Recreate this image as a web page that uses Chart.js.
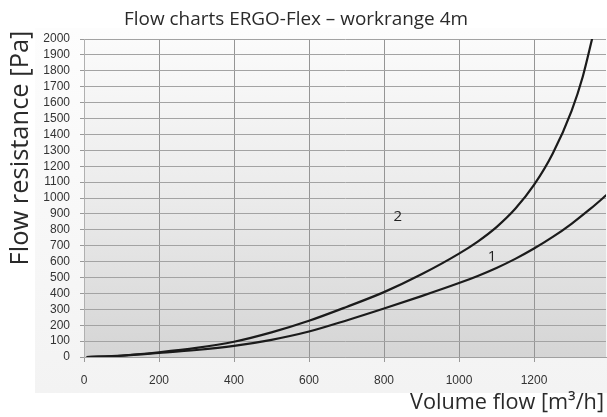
<!DOCTYPE html>
<html><head><meta charset="utf-8">
<script src="https://cdn.jsdelivr.net/npm/chart.js@4/dist/chart.umd.min.js"></script>
<style>html,body{margin:0;padding:0;background:#fff}#wrap{width:607px;height:417px}</style>
</head><body><div id="wrap"><canvas id="c" width="607" height="417"></canvas></div>
<script>
// ---- data ----
const chartTitle = 'Flow charts ERGO-Flex \u2013 workrange 4m';
const xAxisTitle = 'Volume flow [m\u00B3/h]';
const yAxisTitle = 'Flow resistance [Pa]';
const xTicks = [0, 200, 400, 600, 800, 1000, 1200];
const yTicks = [0, 100, 200, 300, 400, 500, 600, 700, 800, 900, 1000, 1100, 1200, 1300, 1400, 1500, 1600, 1700, 1800, 1900, 2000];
const flow1 = [7, 100, 200, 300, 400, 500, 600, 700, 800, 900, 1000, 1050, 1100, 1150, 1200, 1250, 1300, 1350, 1400];
const resistance1 = [0, 8, 25, 44, 70, 108, 160, 230, 305, 383, 465, 510, 560, 617, 682, 755, 838, 931, 1033];
const flow2 = [7, 100, 200, 300, 400, 500, 600, 700, 800, 900, 1000, 1050, 1100, 1150, 1200, 1250, 1300, 1330, 1360];
const resistance2 = [0, 9, 30, 57, 96, 155, 228, 315, 408, 520, 650, 726, 817, 932, 1082, 1280, 1547, 1763, 2051];
const curveLabels = ['1', '2'];
const labelFlow = [1088, 837];
const labelResistance = [630, 881];

const toPts = (xs, ys) => xs.map((x, i) => ({x: x, y: ys[i]}));
const TITLE_FONT = '"Open Sans", "DejaVu Sans", sans-serif';

function fitFont(ctx, text, width, weight) {
  ctx.font = weight + ' 20px ' + TITLE_FONT;
  const w = ctx.measureText(text).width;
  const size = 20 * width / w;
  ctx.font = weight + ' ' + size.toFixed(2) + 'px ' + TITLE_FONT;
  return size;
}

const bgPlugin = {
  id: 'bg',
  beforeDraw(chart) {
    const ctx = chart.ctx, a = chart.chartArea;
    ctx.save();
    const g0 = ctx.createLinearGradient(0, 28, 0, 393);
    g0.addColorStop(0, '#fdfdfd');
    g0.addColorStop(1, '#f3f3f3');
    ctx.fillStyle = g0;
    ctx.fillRect(35, 28, 572, 365);
    const g = ctx.createLinearGradient(0, a.top, 0, a.bottom);
    g.addColorStop(0, '#fbfbfb');
    g.addColorStop(0.5, '#ebebeb');
    g.addColorStop(1, '#d5d5d5');
    ctx.fillStyle = g;
    ctx.fillRect(a.left, a.top, a.right - a.left, a.bottom - a.top);
    ctx.restore();
  }
};

const textPlugin = {
  id: 'texts',
  afterDatasetsDraw(chart) {
    const ctx = chart.ctx, xs = chart.scales.x, ys = chart.scales.y;
    ctx.save();
    ctx.fillStyle = '#222';
    ctx.font = '15px ' + TITLE_FONT;
    ctx.textAlign = 'center';
    ctx.textBaseline = 'middle';
    curveLabels.forEach((t, i) => {
      ctx.fillText(t, xs.getPixelForValue(labelFlow[i]), ys.getPixelForValue(labelResistance[i]));
    });
    ctx.restore();
  },
  afterDraw(chart) {
    const ctx = chart.ctx;
    ctx.save();
    ctx.fillStyle = '#2a2a2a';
    ctx.textBaseline = 'middle';
    ctx.textAlign = 'center';
    fitFont(ctx, chartTitle, 344, 'normal');
    ctx.fillText(chartTitle, 296, 20);
    ctx.textAlign = 'right';
    fitFont(ctx, xAxisTitle, 194, 'normal');
    ctx.fillText(xAxisTitle, 604, 403);
    ctx.translate(21, 148);
    ctx.rotate(-Math.PI / 2);
    ctx.textAlign = 'center';
    fitFont(ctx, yAxisTitle, 235, 'normal');
    ctx.fillText(yAxisTitle, 0, 0);
    ctx.restore();
  }
};

const lineStyle = {
  showLine: true, pointRadius: 0, pointHoverRadius: 0, borderColor: '#1b1b1b',
  borderWidth: 2.2, cubicInterpolationMode: 'monotone', fill: false
};

const tickFont = {family: '"Liberation Sans", Arial, sans-serif', size: 12};
const plain = v => String(v);

new Chart(document.getElementById('c'), {
  type: 'scatter',
  data: {
    datasets: [
      Object.assign({label: curveLabels[0], data: toPts(flow1, resistance1)}, lineStyle),
      Object.assign({label: curveLabels[1], data: toPts(flow2, resistance2)}, lineStyle)
    ]
  },
  options: {
    responsive: false, animation: false, devicePixelRatio: 1,
    layout: {padding: {left: 0, right: 1, top: 39, bottom: 0}},
    plugins: {legend: {display: false}, title: {display: false}, tooltip: {enabled: false}},
    scales: {
      x: {
        type: 'linear', min: 0, max: 1392,
        afterBuildTicks: s => { s.ticks = xTicks.map(v => ({value: v})); },
        afterFit: s => { s.height = 60; },
        grid: {color: '#959595', lineWidth: 1, tickLength: 5, drawTicks: true, tickColor: '#999'},
        border: {color: '#a0a0a0'},
        ticks: {font: tickFont, color: '#333', padding: 11, maxRotation: 0, callback: plain}
      },
      y: {
        type: 'linear', min: 0, max: 2000,
        afterBuildTicks: s => { s.ticks = yTicks.map(v => ({value: v})); },
        afterFit: s => { s.width = 84; },
        grid: {color: '#a3a3a3', lineWidth: 1, tickLength: 4, drawTicks: true, tickColor: '#999'},
        border: {color: '#b0b0b0'},
        ticks: {font: tickFont, color: '#333', padding: 10, autoSkip: false, callback: plain}
      }
    }
  },
  plugins: [bgPlugin, textPlugin]
});
</script></body></html>
